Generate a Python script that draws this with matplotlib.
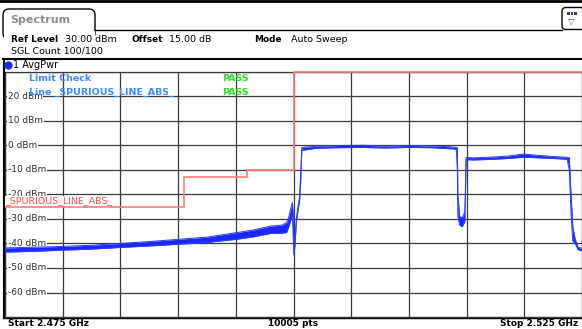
import numpy as np
import matplotlib.pyplot as plt
from matplotlib.patches import Rectangle, FancyBboxPatch
from matplotlib.transforms import blended_transform_factory

# Trace envelope (frequency in MHz, level in dBm)
trace_freq = [2475.0, 2477.5, 2480.0, 2482.5, 2485.0, 2487.5, 2490.0, 2492.5, 2495.0,
              2496.5, 2498.0, 2499.0, 2499.4, 2499.6, 2499.8, 2499.9, 2499.96, 2500.03,
              2500.12, 2500.25, 2500.4, 2500.52, 2500.62, 2500.72, 2502.0, 2504.0, 2506.0,
              2508.0, 2510.0, 2512.0, 2513.5, 2514.1, 2514.2, 2514.24, 2514.4, 2514.62,
              2514.85, 2514.96, 2515.6, 2516.9, 2518.6, 2519.9, 2521.2, 2522.5, 2523.7,
              2523.9, 2524.05, 2524.2, 2524.4, 2524.65, 2525.0]
trace_low = [-43.5, -43.2, -42.7, -42.3, -41.6, -41.0, -40.3, -39.6, -38.3,
             -37.3, -35.9, -35.8, -35.5, -33.0, -30.0, -28.0, -35.0, -44.8,
             -41.0, -31.5, -26.0, -23.0, -15.0, -2.0, -1.1, -0.9, -0.8,
             -1.0, -0.8, -0.9, -1.3, -1.5, -10.0, -29.0, -32.5, -33.2,
             -31.0, -5.8, -5.9, -5.7, -5.3, -4.8, -5.0, -5.3, -5.6,
             -10.0, -28.0, -39.0, -40.0, -42.5, -43.0]
trace_high = [-41.8, -41.5, -41.2, -40.7, -40.0, -39.2, -38.3, -37.4, -35.6,
              -34.5, -32.9, -32.5, -31.5, -29.0, -25.0, -23.3, -27.0, -41.0,
              -38.0, -29.5, -24.5, -21.0, -12.0, -0.8, -0.3, 0.0, 0.1,
              -0.3, 0.0, -0.2, -0.5, -0.8, -1.0, -20.0, -29.0, -29.5,
              -27.0, -4.9, -5.0, -4.8, -4.3, -3.5, -4.0, -4.5, -4.8,
              -5.0, -20.0, -33.0, -38.0, -41.5, -42.0]

# Limit line _SPURIOUS_LINE_ABS_
limit_edges = [2475.0, 2490.5, 2496.0, 2500.0, 2525.0]
limit_level = [-25, -13, -10, 30]

y_ticks = [20, 10, 0, -10, -20, -30, -40, -50, -60]

W, H = 582, 329
fig = plt.figure(figsize=(W / 100, H / 100), dpi=100)


def fx(x):
    return x / W


def fy(y):
    return 1 - y / H


# screen decorations, drawn in pixel coordinates
deco = fig.add_axes([0, 0, 1, 1])
deco.set_xlim(0, W)
deco.set_ylim(H, 0)
deco.axis('off')
deco.plot([0, W], [1.2, 1.2], color='black', lw=2)
# tab
deco.add_patch(FancyBboxPatch((3, 9), 92, 30, boxstyle='round,pad=0,rounding_size=6',
                              fc='white', ec='black', lw=1))
deco.plot([95, 562], [30, 30], color='black', lw=1)
deco.add_patch(Rectangle((3.5, 30.5), 91, 10, fc='white', ec='none'))
deco.text(10, 20, 'Spectrum', color='#8c8c8c', fontsize=8, fontweight='bold', va='center')
# icon top right
deco.add_patch(FancyBboxPatch((562, 7.5), 24, 22, boxstyle='round,pad=0,rounding_size=4',
                              fc='white', ec='black', lw=1))
for i in range(3):
    deco.add_patch(Rectangle((567 + i * 3.5, 12), 2.5, 2.5, fc='#404060', ec='none'))
deco.text(571, 21, '\u25bd', fontsize=6, ha='center', va='center', color='#404060')

deco.text(11, 39.5, 'Ref Level', fontsize=6.5, fontweight='bold', va='center')
deco.text(65, 39.5, '30.00 dBm', fontsize=6.8, va='center')
deco.text(131, 39.5, 'Offset', fontsize=6.5, fontweight='bold', va='center')
deco.text(169, 39.5, '15.00 dB', fontsize=6.8, va='center')
deco.text(254, 39.5, 'Mode', fontsize=6.5, fontweight='bold', va='center')
deco.text(291, 39.5, 'Auto Sweep', fontsize=6.8, va='center')
deco.text(11, 51.5, 'SGL Count 100/100', fontsize=6.8, va='center')
deco.plot([3, W], [59.3, 59.3], color='black', lw=1.5)
deco.plot([3.5, 3.5], [59, 318], color='black', lw=1.5)
deco.plot(7.5, 65, 'o', color='#1530e0', ms=5)
deco.text(13, 65, '1 AvgPwr', fontsize=7, va='center')
deco.plot([3, W], [317.5, 317.5], color='black', lw=1)

deco.text(8, 323.5, 'Start 2.475 GHz', fontsize=6.5, fontweight='bold', va='center')
deco.text(293, 323.5, '10005 pts', fontsize=6.5, fontweight='bold', va='center', ha='center')
deco.text(578, 323.5, 'Stop 2.525 GHz', fontsize=6.5, fontweight='bold', va='center', ha='right')

# diagram
ax = fig.add_axes([fx(5), fy(317), 577 / W, 245 / H])
ax.set_xlim(2475, 2525)
ax.set_ylim(-70, 30)
ax.set_xticks(np.arange(2475, 2526, 5))
ax.set_yticks(np.arange(-70, 31, 10))
ax.tick_params(length=0, labelbottom=False, labelleft=False)
ax.set_axisbelow(True)
ax.grid(True, color='#3a3a3a', lw=0.9)
for s in ax.spines.values():
    s.set_color('#3a3a3a')
    s.set_linewidth(0.9)

tr = blended_transform_factory(ax.transAxes, ax.transData)
for v in y_ticks:
    ax.text(3 / 577, v, f'{v} dBm', transform=tr, fontsize=6.5, color='#303030',
            va='center', ha='left', zorder=2,
            bbox=dict(fc='white', ec='none', pad=0.4))

ax.add_patch(Rectangle((fx(5), fy(206)), 111 / W, 10 / H, transform=fig.transFigure,
                       fc='white', ec='none', zorder=3))
ax.text(fx(5), fy(201), '_SPURIOUS_LINE_ABS_', transform=fig.transFigure, fontsize=6.8,
        color='#ff4a4a', va='center', zorder=3.5)
ax.stairs(limit_level, limit_edges, baseline=None, color='#ff7a7a', lw=1.2,
          zorder=4, clip_on=False)

ax.fill_between(trace_freq, trace_low, trace_high, color='#1a28ff', lw=0, zorder=5)
ax.plot(trace_freq, trace_low, color='#2a3cff', lw=0.7, zorder=5)
ax.plot(trace_freq, trace_high, color='#2a3cff', lw=0.7, zorder=5)

ax.text(fx(29), fy(78.5), 'Limit Check', transform=fig.transFigure, fontsize=6.8,
        fontweight='bold', color='#3d8bff', va='center', zorder=6)
ax.text(fx(29), fy(92.5), 'Line _SPURIOUS_LINE_ABS_', transform=fig.transFigure,
        fontsize=6.8, fontweight='bold', color='#3d8bff', va='center', zorder=6)
ax.text(fx(222), fy(78.5), 'PASS', transform=fig.transFigure, fontsize=6.8,
        fontweight='bold', color='#2ee02e', va='center', zorder=6)
ax.text(fx(222), fy(92.5), 'PASS', transform=fig.transFigure, fontsize=6.8,
        fontweight='bold', color='#2ee02e', va='center', zorder=6)

fig.savefig('out.png', dpi=100)
